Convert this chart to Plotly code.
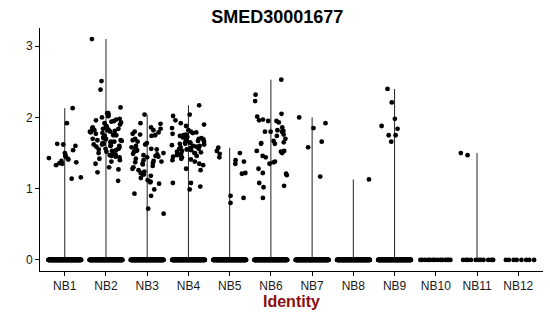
import math
import plotly.graph_objects as go

categories = ["NB1", "NB2", "NB3", "NB4", "NB5", "NB6", "NB7", "NB8", "NB9", "NB10", "NB11", "NB12"]

# non-zero expression values per identity
nb1 = [2.13, 1.92, 1.62, 1.63, 1.60, 1.54, 1.50, 1.47, 1.45, 1.43, 1.42, 1.41, 1.39, 1.37, 1.36, 1.35, 1.33, 1.16, 1.14]
nb2 = [3.10, 2.51, 2.39, 2.14, 2.06, 2.06, 2.04, 2.02, 2.02, 2.00, 1.98, 1.97, 1.96, 1.95, 1.94, 1.93, 1.92, 1.90,
       1.88, 1.87, 1.86, 1.86, 1.85, 1.84, 1.84, 1.83, 1.82, 1.82, 1.81, 1.80, 1.80, 1.79, 1.78, 1.77, 1.76, 1.75,
       1.75, 1.74, 1.73, 1.72, 1.71, 1.70, 1.70, 1.69, 1.68, 1.68, 1.67, 1.66, 1.66, 1.65, 1.64, 1.63, 1.62, 1.62,
       1.61, 1.60, 1.60, 1.59, 1.58, 1.57, 1.56, 1.56, 1.55, 1.54, 1.53, 1.52, 1.50, 1.50, 1.48, 1.47, 1.46, 1.45,
       1.44, 1.42, 1.40, 1.38, 1.35, 1.30, 1.27, 1.23, 1.11]
nb3 = [2.04, 1.92, 1.91, 1.86, 1.84, 1.82, 1.80, 1.79, 1.77, 1.76, 1.75, 1.74, 1.70, 1.68, 1.66, 1.64, 1.62, 1.60,
       1.58, 1.57, 1.56, 1.55, 1.54, 1.53, 1.52, 1.50, 1.49, 1.48, 1.47, 1.46, 1.45, 1.44, 1.42, 1.40, 1.39, 1.38,
       1.37, 1.36, 1.35, 1.34, 1.32, 1.30, 1.28, 1.26, 1.24, 1.22, 1.20, 1.20, 1.18, 1.15, 1.12, 1.10, 1.09, 1.07,
       0.99, 0.93, 0.90, 0.72, 0.65]
nb4 = [2.17, 2.04, 2.02, 1.96, 1.92, 1.90, 1.88, 1.85, 1.82, 1.80, 1.79, 1.78, 1.77, 1.76, 1.75, 1.74, 1.73, 1.72,
       1.71, 1.70, 1.70, 1.69, 1.68, 1.67, 1.67, 1.66, 1.65, 1.65, 1.64, 1.63, 1.63, 1.62, 1.61, 1.60, 1.60, 1.59,
       1.58, 1.57, 1.56, 1.56, 1.55, 1.54, 1.53, 1.52, 1.51, 1.50, 1.50, 1.49, 1.48, 1.47, 1.46, 1.45, 1.44, 1.42,
       1.41, 1.40, 1.38, 1.35, 1.33, 1.28, 1.26, 1.08, 1.08, 1.03, 0.99]
nb5 = [1.575, 1.53, 1.50, 1.49, 1.44, 1.40, 1.38, 1.35, 1.22, 1.21, 0.90, 0.87, 0.80]
nb6 = [2.53, 2.32, 2.23, 2.05, 2.01, 1.97, 1.96, 1.95, 1.95, 1.93, 1.86, 1.82, 1.81, 1.80, 1.80, 1.80, 1.76, 1.74,
       1.70, 1.67, 1.65, 1.64, 1.63, 1.63, 1.53, 1.53, 1.52, 1.50, 1.46, 1.44, 1.38, 1.37, 1.35, 1.28, 1.22, 1.21,
       1.19, 1.08, 1.04, 1.02, 0.87]
nb7 = [2.00, 1.92, 1.85, 1.66, 1.58, 1.17]
nb8 = [1.13]
nb9 = [2.40, 2.21, 1.98, 1.88, 1.84, 1.75, 1.75, 1.66]
nb10 = []
nb11 = [1.50, 1.47]
nb12 = []
nonzero = [nb1, nb2, nb3, nb4, nb5, nb6, nb7, nb8, nb9, nb10, nb11, nb12]

# number of cells with zero expression per identity (estimated)
zero_counts = [160, 160, 160, 160, 160, 160, 160, 160, 160, 14, 11, 8]

title_text = "SMED30001677"
x_title = "Identity"
y_ticks = [0, 1, 2, 3]

GOLD = 0.6180339887


def hash_jitter(n, seed):
    # deterministic hash-based spread of horizontal positions within +/-0.4
    out = []
    for i in range(n):
        h = math.sin((i + 1) * 12.9898 + (seed + 1) * 78.233) * 43758.5453
        out.append(((h - math.floor(h)) - 0.5) * 0.8)
    return out


def even_jitter(n, seed):
    # evenly spread positions within +/-0.4 (for the dense zero band)
    return [(((i + 1) * GOLD + seed * 0.137) % 1.0 - 0.5) * 0.8 for i in range(n)]


fig = go.Figure()

# violin outlines (collapsed to thin vertical lines: from 0 to the max value)
for i, vals in enumerate(nonzero):
    if vals:
        fig.add_trace(go.Scatter(x=[i, i], y=[0, max(vals)], mode="lines",
                                 line=dict(color="#222222", width=1), hoverinfo="skip", showlegend=False))

# jittered points
px, py = [], []
for i, (vals, nz) in enumerate(zip(nonzero, zero_counts)):
    px += [i + o for o in hash_jitter(len(vals), i)]
    py += list(vals)
    px += [i + o for o in even_jitter(nz, i)]
    py += [0.0] * nz
fig.add_trace(go.Scatter(x=px, y=py, mode="markers",
                         marker=dict(color="black", size=4.8, line=dict(width=0)),
                         showlegend=False, hoverinfo="skip"))

font_family = "Liberation Sans, Arial, sans-serif"
fig.update_layout(
    width=550, height=316,
    margin=dict(l=40, r=7, t=28, b=45),
    paper_bgcolor="white", plot_bgcolor="white",
    font=dict(family=font_family, size=12, color="black"),
    title=dict(text="<b>" + title_text + "</b>", x=0.504, xref="container", xanchor="center",
               y=1 - 17 / 316, yref="container", yanchor="middle",
               font=dict(size=18, color="black", family=font_family)),
    xaxis=dict(range=[-0.6, 11.6], tickmode="array", tickvals=list(range(len(categories))),
               ticktext=categories, showline=True, linecolor="black", linewidth=1,
               ticks="outside", ticklen=4, tickcolor="black", showgrid=False, zeroline=False,
               tickfont=dict(size=12, color="#1a1a1a")),
    yaxis=dict(range=[-0.155, 3.255], tickmode="array", tickvals=y_ticks,
               showline=True, linecolor="black", linewidth=1,
               ticks="outside", ticklen=4, tickcolor="black", showgrid=False, zeroline=False,
               tickfont=dict(size=12, color="#1a1a1a")),
    annotations=[dict(text="<b>" + x_title + "</b>", x=0.5, xref="paper", y=-30 / 243, yref="paper",
                      xanchor="center", yanchor="middle", showarrow=False,
                      font=dict(size=16, color="#8B0E0E", family=font_family))],
)

fig.write_html("out.html")
